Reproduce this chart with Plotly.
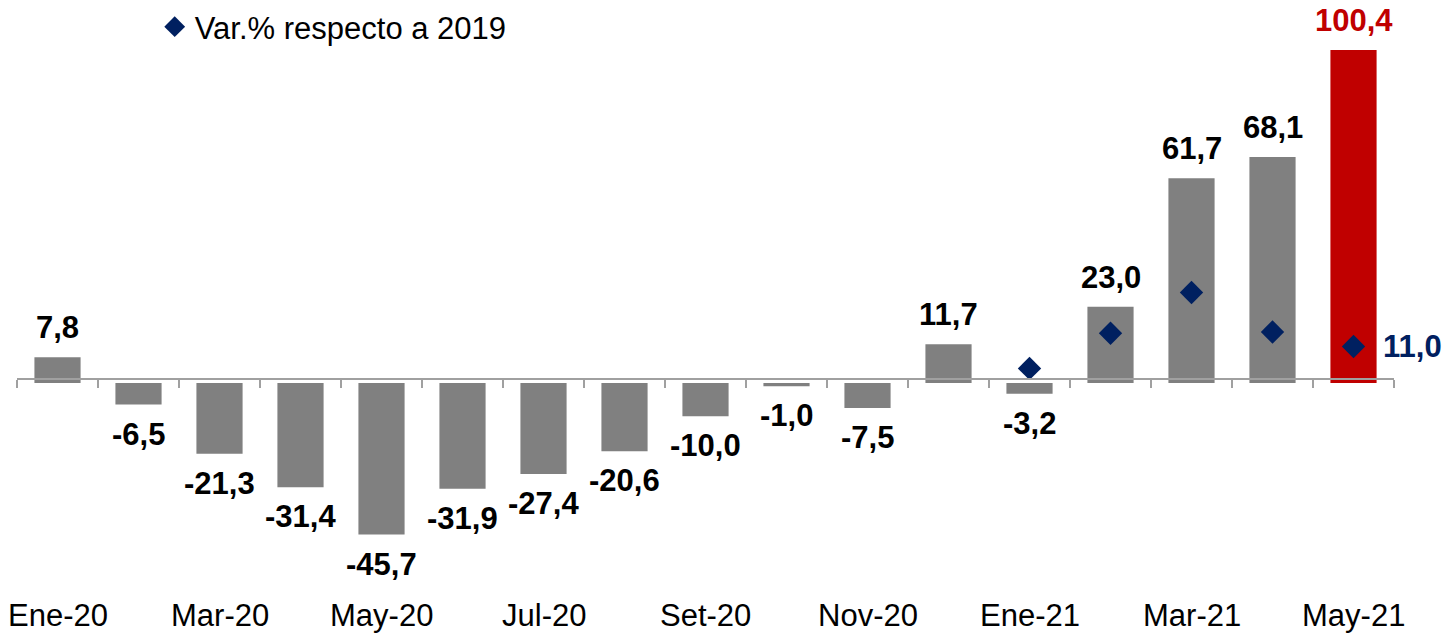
import plotly.graph_objects as go

categories = ['Ene-20', 'Feb-20', 'Mar-20', 'Abr-20', 'May-20', 'Jun-20', 'Jul-20', 'Ago-20',
              'Set-20', 'Oct-20', 'Nov-20', 'Dic-20', 'Ene-21', 'Feb-21', 'Mar-21', 'Abr-21', 'May-21']
values = [7.8, -6.5, -21.3, -31.4, -45.7, -31.9, -27.4, -20.6, -10.0, -1.0, -7.5, 11.7,
          -3.2, 23.0, 61.7, 68.1, 100.4]
var_cats = ['Ene-21', 'Feb-21', 'Mar-21', 'Abr-21', 'May-21']
var_2019 = [4.4, 15.0, 27.3, 15.4, 11.0]
tick_labels = ['Ene-20', 'Mar-20', 'May-20', 'Jul-20', 'Set-20', 'Nov-20', 'Ene-21', 'Mar-21', 'May-21']

GREY = '#808080'
RED = '#C00000'
NAVY = '#002060'
FONT = 'Arial, Liberation Sans, sans-serif'

def fmt(v):
    return f"{v:.1f}".replace('.', ',')

bar_colors = [GREY] * (len(values) - 1) + [RED]

fig = go.Figure()
fig.add_trace(go.Bar(x=categories, y=values, marker=dict(color=bar_colors, line=dict(width=0)),
                     showlegend=False, hoverinfo='x+y'))
fig.add_trace(go.Scatter(x=var_cats, y=var_2019, mode='markers', name='Var.% respecto a 2019',
                         marker=dict(symbol='diamond', size=18, color=NAVY)))

H = 639
TOP_PX, BOT_PX = 10, 590
ymin, ymax = -62.4, 112.45
zero_frac = (0 - ymin) / (ymax - ymin)

annotations = []
for c, v, col in zip(categories, values, bar_colors):
    annotations.append(dict(
        x=c, y=v, xref='x', yref='y', text=fmt(v), showarrow=False,
        yanchor='bottom' if v >= 0 else 'top', yshift=10 if v >= 0 else -10,
        font=dict(family=FONT, size=31, color=RED if col == RED else 'black', weight='bold')))
for t in tick_labels:
    annotations.append(dict(x=t, y=0, xref='x', yref='paper', text=t, showarrow=False,
                            yanchor='middle', yshift=-25,
                            font=dict(family=FONT, size=31, color='black')))
annotations.append(dict(x=var_cats[-1], y=var_2019[-1], xref='x', yref='y', text=fmt(var_2019[-1]),
                        showarrow=False, xanchor='left', xshift=27, yanchor='middle',
                        font=dict(family=FONT, size=31, color=NAVY, weight='bold')))

fig.update_layout(
    width=1443, height=H,
    margin=dict(l=17, r=49, t=0, b=H - BOT_PX, autoexpand=False),
    paper_bgcolor='white', plot_bgcolor='white',
    bargap=0.43,
    separators=',.',
    font=dict(family=FONT, size=31, color='black'),
    showlegend=True,
    legend=dict(x=0.1, y=1.0, xanchor='left', yanchor='top', bgcolor='rgba(0,0,0,0)',
                font=dict(family=FONT, size=31, color='black')),
    xaxis=dict(type='category', range=[-0.5, len(categories) - 0.5], anchor='free', position=zero_frac,
               showline=True, linecolor='#A0A0A0', linewidth=2, ticks='outside', ticklen=8,
               tickwidth=2, tickcolor='#A0A0A0', tickson='boundaries', showticklabels=False,
               showgrid=False, zeroline=False),
    yaxis=dict(range=[ymin, ymax], domain=[0, 1 - TOP_PX / BOT_PX], visible=False,
               showgrid=False, zeroline=False),
    annotations=annotations,
)

fig.write_html("out.html", post_script="document.body.style.margin='0';",
               config={'displayModeBar': False})
